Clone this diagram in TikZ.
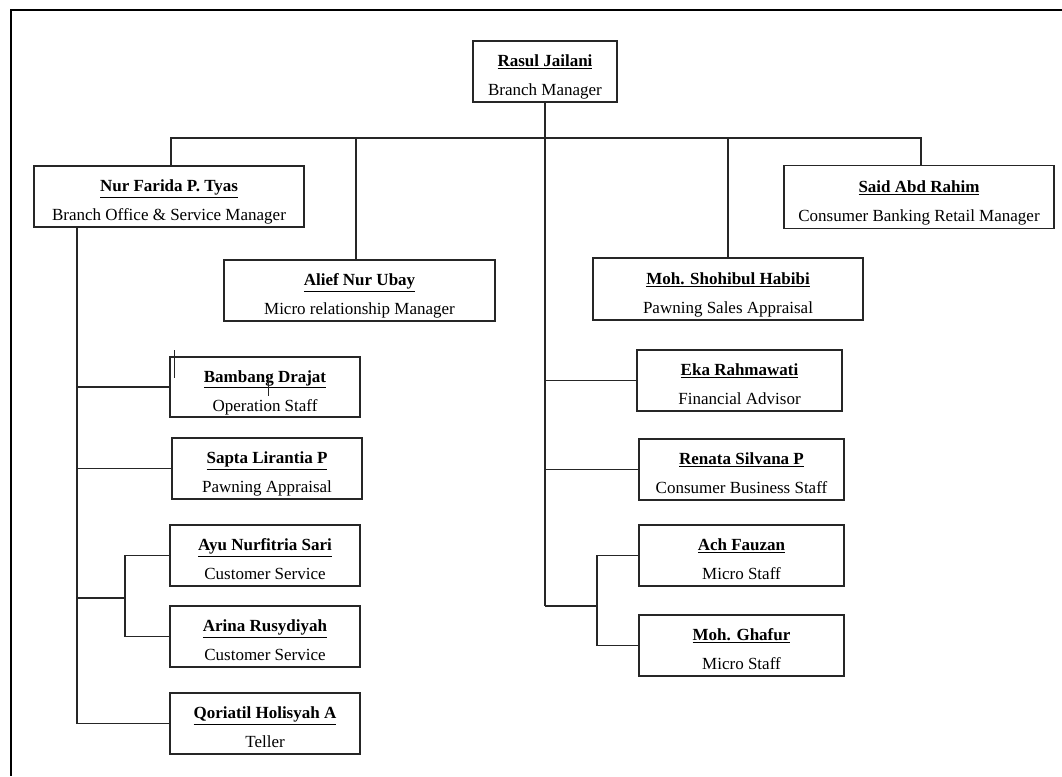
\documentclass[tikz,border=0pt]{standalone}
\usepackage{fontspec}
\setmainfont{Liberation Serif}
\begin{document}
\begin{tikzpicture}[x=1pt,y=-1pt,
  person/.style={draw=black!85, line width=1.5pt, minimum height=61pt, inner sep=0pt,
    font=\fontsize{17}{29}\selectfont},
  link/.style={draw=black!85, line width=1.5pt},
  stray/.style={draw=black!85, line width=1pt}]
\useasboundingbox (0,0) rectangle (1062,776);
% outer frame (only top and left edges visible)
\draw[line width=1.9pt] (1062,10) -- (11,10) -- (11,776);

\newcommand{\pn}[2]{\raisebox{-4pt}[\height][\depth]{\begin{tabular}{@{}c@{}}\textbf{\underline{#1}}\\#2\end{tabular}}}

\node[person, minimum width=144pt] (rasul) at (545,71.5) {\pn{Rasul Jailani}{Branch Manager}};
\node[person, minimum width=270pt] (nur) at (169,196.5) {\pn{Nur Farida P. Tyas}{Branch Office \& Service Manager}};
\node[person, minimum width=271pt] (alief) at (359.5,290.5) {\pn{Alief Nur Ubay}{Micro relationship Manager}};
\node[person, minimum width=270pt, minimum height=62pt] (shohibul) at (728,289) {\pn{Moh. Shohibul Habibi}{Pawning Sales Appraisal}};
\node[person, minimum width=270pt, minimum height=63pt] (said) at (919,197) {\pn{Said Abd Rahim}{Consumer Banking Retail Manager}};

\node[person, minimum width=190pt, minimum height=60pt] (bambang) at (265,387) {\pn{Bambang Drajat}{Operation Staff}};
\node[person, minimum width=190pt] (sapta) at (267,468.5) {\pn{Sapta Lirantia P}{Pawning Appraisal}};
\node[person, minimum width=190pt] (ayu) at (265,555.5) {\pn{Ayu Nurfitria Sari}{Customer Service}};
\node[person, minimum width=190pt] (arina) at (265,636.5) {\pn{Arina Rusydiyah}{Customer Service}};
\node[person, minimum width=190pt] (qori) at (265,723.5) {\pn{Qoriatil Holisyah A}{Teller}};

\node[person, minimum width=205pt] (eka) at (739.5,380.5) {\pn{Eka Rahmawati}{Financial Advisor}};
\node[person, minimum width=205pt] (renata) at (741.5,469.5) {\pn{Renata Silvana P}{Consumer Business Staff}};
\node[person, minimum width=205pt] (ach) at (741.5,555.5) {\pn{Ach Fauzan}{Micro Staff}};
\node[person, minimum width=205pt] (ghafur) at (741.5,645.5) {\pn{Moh. Ghafur}{Micro Staff}};

% helper coordinates
\coordinate (bus) at (0,138);
\coordinate (LT) at (77,0);
\coordinate (LB) at (125,0);
\coordinate (lj) at (0,598);
\coordinate (RT) at (545,606);
\coordinate (RB) at (597,0);

% top level bus
\draw[link] ([xshift=2pt]nur.north) -- ([xshift=2pt]nur.north |- bus) -- ([xshift=2pt]said.north |- bus) -- ([xshift=2pt]said.north);
\draw[link] ([xshift=-3.5pt]alief.north) -- ([xshift=-3.5pt]alief.north |- bus);
\draw[link] (shohibul.north) -- (shohibul.north |- bus);
\draw[link] (rasul.south) -- (RT);

% left branch
\draw[link] (LT |- nur.south) -- (LT |- qori.west) -- (qori.west);
\draw[link] (LT |- bambang.west) -- (bambang.west);
\draw[link] (LT |- sapta.west) -- (sapta.west);
\draw[link] (LT |- lj) -- (LB |- lj);
\draw[link] (ayu.west) -- (LB |- ayu.west) -- (LB |- arina.west) -- (arina.west);

% right branch
\draw[link] (RT |- eka.west) -- (eka.west);
\draw[link] (RT |- renata.west) -- (renata.west);
\draw[link] (RT) -- (RB |- RT);
\draw[link] (ach.west) -- (RB |- ach.west) -- (RB |- ghafur.west) -- (ghafur.west);

% stray marks
\coordinate (s1a) at (174,350); \coordinate (s1b) at (174,378);
\coordinate (s2a) at (268,377); \coordinate (s2b) at (268,396);
\draw[stray] (s1a) -- (s1b);
\draw[stray] (s2a) -- (s2b);
\end{tikzpicture}
\end{document}
